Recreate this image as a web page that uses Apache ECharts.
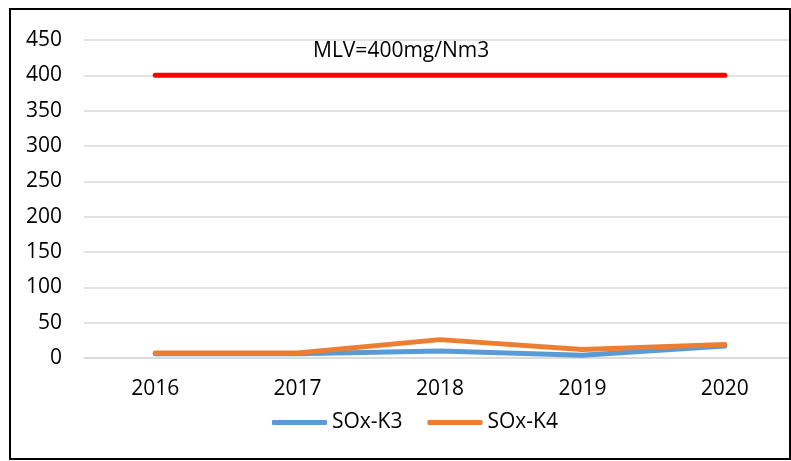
<!DOCTYPE html>
<html>
<head>
<meta charset="utf-8">
<script src="https://cdn.jsdelivr.net/npm/echarts@6/dist/echarts.min.js"></script>
<style>
  html, body { margin: 0; padding: 0; background: #fff; }
  #chart { width: 791px; height: 461px; }
</style>
</head>
<body>
<div id="chart"></div>
<script>
const years = ['2016', '2017', '2018', '2019', '2020']
const soxK3 = [6, 6, 10, 4, 17]
const soxK4 = [7, 7, 26, 12, 19]
const mlv = [400, 400, 400, 400, 400]
const mlvLabel = 'MLV=400mg/Nm3'

const font = 'Open Sans'

const chart = echarts.init(document.getElementById('chart'))
chart.setOption({
  animation: false,
  backgroundColor: '#fff',
  textStyle: { fontFamily: font },
  grid: {
    left: 84,
    width: 712,
    top: 40,
    bottom: 103,
    outerBoundsMode: 'none',
  },
  legend: {
    left: 272,
    top: 412,
    padding: 0,
    icon: 'roundRect',
    itemWidth: 55,
    itemHeight: 5,
    itemGap: 25,
    data: ['SOx-K3', 'SOx-K4'],
    textStyle: { fontSize: 21, color: '#000', fontFamily: font },
  },
  xAxis: {
    type: 'category',
    data: years,
    boundaryGap: true,
    axisLine: { lineStyle: { color: '#D9D9D9', width: 1.5 } },
    axisTick: { show: false },
    axisLabel: { fontSize: 21, color: '#000', margin: 21, fontFamily: font },
  },
  yAxis: {
    type: 'value',
    min: 0,
    max: 450,
    interval: 50,
    axisLine: { show: false },
    axisTick: { show: false },
    axisLabel: { fontSize: 21, color: '#000', margin: 22, fontFamily: font },
    splitLine: { lineStyle: { color: '#D9D9D9', width: 1.5 } },
  },
  graphic: [
    {
      type: 'text',
      left: 313,
      top: 41,
      style: { text: mlvLabel, fontSize: 21, fill: '#000', fontFamily: font },
    },
    {
      type: 'rect',
      z: 100,
      shape: { x: 10, y: 9, width: 780, height: 450 },
      style: { fill: 'none', stroke: '#000', lineWidth: 2 },
    },
  ],
  series: [
    {
      name: 'SOx-K3',
      type: 'line',
      data: soxK3,
      symbol: 'none',
      lineStyle: { color: '#5B9BD5', width: 5, cap: 'round', join: 'round' },
      itemStyle: { color: '#5B9BD5' },
    },
    {
      name: 'SOx-K4',
      type: 'line',
      data: soxK4,
      symbol: 'none',
      lineStyle: { color: '#ED7D31', width: 5, cap: 'round', join: 'round' },
      itemStyle: { color: '#ED7D31' },
    },
    {
      name: 'MLV',
      type: 'line',
      data: mlv,
      symbol: 'none',
      lineStyle: { color: '#FF0000', width: 5, cap: 'round' },
      itemStyle: { color: '#FF0000' },
    },
  ],
})
</script>
</body>
</html>
